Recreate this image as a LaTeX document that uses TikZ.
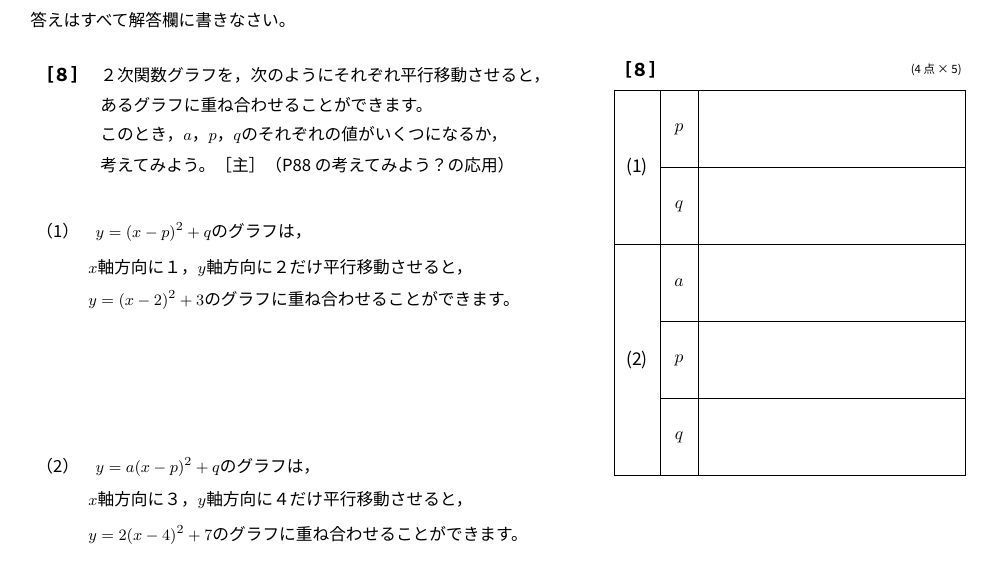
\documentclass[tikz,border=0pt]{standalone}
\usepackage{fontspec}
\usepackage{amsmath}
\setmainfont{Noto Sans CJK JP}
\usetikzlibrary{positioning}

\tikzset{
  txt/.style={anchor=west,inner sep=0pt,font=\fontsize{9.5}{11}\selectfont},
  cell/.style={inner sep=0pt,font=\fontsize{10}{12}\selectfont}
}

\begin{document}
\begin{tikzpicture}[x=0.02cm,y=-0.02cm]
  \useasboundingbox (0,0) rectangle (999,577);
  \node[txt] (head) at (30,20) {答えはすべて解答欄に書きなさい。};
  % question text
  \node[txt,font=\fontsize{10}{12}\selectfont\bfseries] (q8) at (36,75) {［８］};
  \node[txt] (l1) at (100,75) {２次関数グラフを，次のようにそれぞれ平行移動させると，};
  \node[txt] (l2) at (100,105) {あるグラフに重ね合わせることができます。};
  \node[txt] (l3) at (100,135) {このとき，$a$，$p$，$q$のそれぞれの値がいくつになるか，};
  \node[txt] (l4) at (100,165) {考えてみよう。［主］（P88 の考えてみよう？の応用）};
  \node[txt] (p1) at (36,232) {（1）\quad $y=(x-p)^2+q$のグラフは，};
  \node[txt] (p1b) at (88,268) {$x$軸方向に１，$y$軸方向に２だけ平行移動させると，};
  \node[txt] (p1c) at (88,300) {$y=(x-2)^2+3$のグラフに重ね合わせることができます。};
  \node[txt] (p2) at (36,467) {（2）\quad $y=a(x-p)^2+q$のグラフは，};
  \node[txt] (p2b) at (88,500) {$x$軸方向に３，$y$軸方向に４だけ平行移動させると，};
  \node[txt] (p2c) at (88,535) {$y=2(x-4)^2+7$のグラフに重ね合わせることができます。};
  % answer table
  \node[txt,font=\fontsize{10}{12}\selectfont\bfseries] (t8) at (614,70) {［８］};
  \node[txt,anchor=east,font=\fontsize{6.5}{8}\selectfont] (pts) at (962,70) {(4 点 × 5)};
  \draw (614,90) rectangle (965,475);
  \draw (660,90) -- (660,475);
  \draw (698,90) -- (698,475);
  \draw (614,244) -- (965,244);
  \foreach \yy in {167,321,398} \draw (660,\yy) -- (965,\yy);
  \node[cell] (r1) at (637,167) {(1)};
  \node[cell] (r2) at (637,360) {(2)};
  \node[cell] (c1) at (679,129) {$p$};
  \node[cell] (c2) at (679,206) {$q$};
  \node[cell] (c3) at (679,283) {$a$};
  \node[cell] (c4) at (679,360) {$p$};
  \node[cell] (c5) at (679,437) {$q$};
\end{tikzpicture}
\end{document}
